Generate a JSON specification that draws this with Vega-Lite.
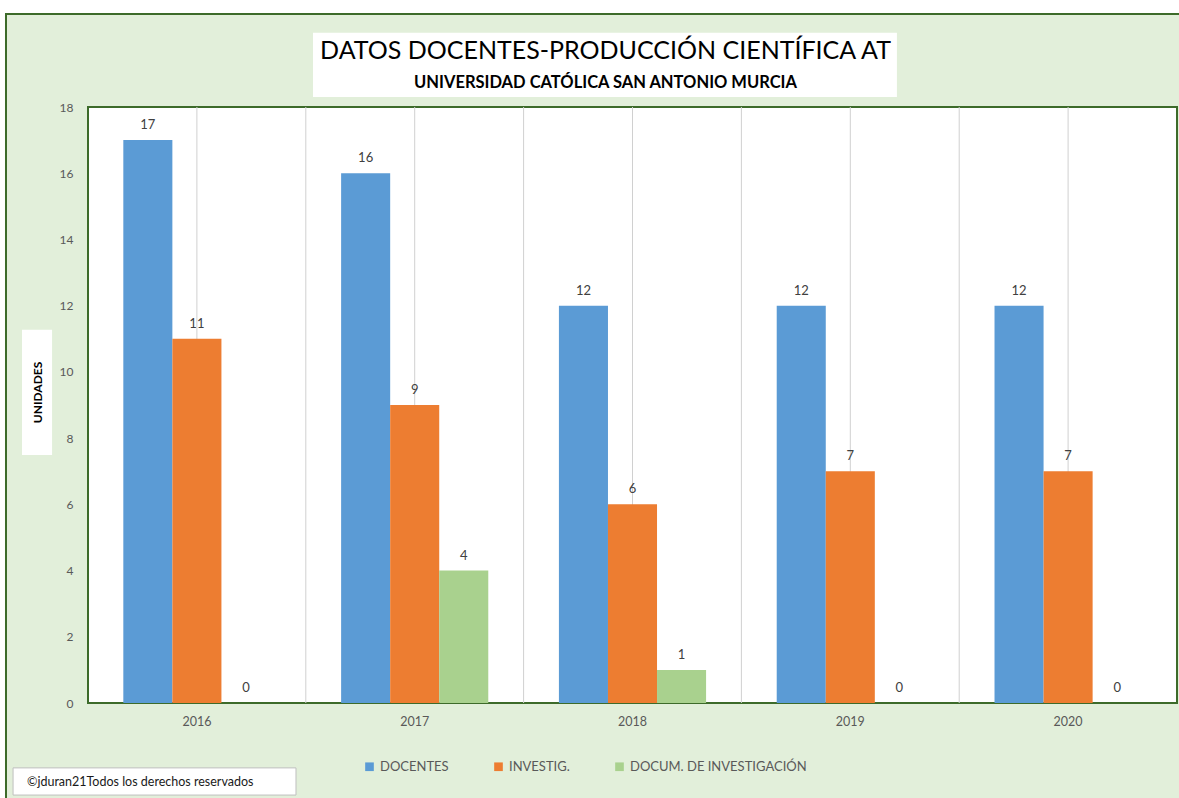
{
  "$schema": "https://vega.github.io/schema/vega-lite/v6.json",
  "width": 1089,
  "height": 596,
  "autosize": {"type": "none"},
  "padding": {"left": 88, "top": 107, "right": 2, "bottom": 95},
  "background": "#FFFFFF",
  "config": {
    "font": "Lato",
    "view": {"fill": null, "stroke": null}
  },
  "title": {
    "text": "DATOS DOCENTES-PRODUCCIÓN CIENTÍFICA AT",
    "subtitle": "UNIVERSIDAD CATÓLICA SAN ANTONIO MURCIA",
    "font": "Lato",
    "fontSize": 25,
    "fontWeight": "normal",
    "color": "#000000",
    "subtitleFont": "Lato",
    "subtitleFontSize": 16.5,
    "subtitleFontWeight": "bold",
    "subtitleColor": "#000000",
    "subtitlePadding": 11,
    "anchor": "middle",
    "frame": "group",
    "dx": -27,
    "offset": -79,
    "zindex": 2
  },
  "data": {
    "values": [
      {"year": "2016", "serie": "DOCENTES", "value": 17},
      {"year": "2016", "serie": "INVESTIG.", "value": 11},
      {"year": "2016", "serie": "DOCUM. DE INVESTIGACIÓN", "value": 0},
      {"year": "2017", "serie": "DOCENTES", "value": 16},
      {"year": "2017", "serie": "INVESTIG.", "value": 9},
      {"year": "2017", "serie": "DOCUM. DE INVESTIGACIÓN", "value": 4},
      {"year": "2018", "serie": "DOCENTES", "value": 12},
      {"year": "2018", "serie": "INVESTIG.", "value": 6},
      {"year": "2018", "serie": "DOCUM. DE INVESTIGACIÓN", "value": 1},
      {"year": "2019", "serie": "DOCENTES", "value": 12},
      {"year": "2019", "serie": "INVESTIG.", "value": 7},
      {"year": "2019", "serie": "DOCUM. DE INVESTIGACIÓN", "value": 0},
      {"year": "2020", "serie": "DOCENTES", "value": 12},
      {"year": "2020", "serie": "INVESTIG.", "value": 7},
      {"year": "2020", "serie": "DOCUM. DE INVESTIGACIÓN", "value": 0}
    ]
  },
  "layer": [
    {
      "data": {"values": [{"box": "frame"}]},
      "mark": {"type": "rect", "fill": "#E2EFDA", "stroke": "#3D6B2A", "strokeWidth": 2, "clip": false},
      "encoding": {
        "x": {"datum": "2016", "bandPosition": -0.3765, "type": "nominal", "axis": null},
        "x2": {"datum": "2020", "bandPosition": 1.1},
        "y": {"datum": 20.81, "type": "quantitative"},
        "y2": {"datum": -3.6}
      }
    },
    {
      "data": {"values": [{"box": "plot"}]},
      "mark": {"type": "rect", "fill": "#FFFFFF", "stroke": "#3D6B2A", "strokeWidth": 2, "clip": false},
      "encoding": {
        "x": {"datum": "2016", "bandPosition": 0, "type": "nominal", "axis": null},
        "x2": {"datum": "2020", "bandPosition": 1},
        "y": {"datum": 18, "type": "quantitative"},
        "y2": {"datum": 0}
      }
    },
    {
      "transform": [{"aggregate": [{"op": "count", "as": "n"}], "groupby": ["year"]}],
      "mark": {"type": "rule", "color": "#D0D0D0", "strokeWidth": 1},
      "encoding": {
        "x": {"field": "year", "type": "nominal", "bandPosition": 0.5, "axis": null}
      }
    },
    {
      "transform": [
        {"aggregate": [{"op": "count", "as": "n"}], "groupby": ["year"]},
        {"filter": "datum.year !== '2016'"}
      ],
      "mark": {"type": "rule", "color": "#D0D0D0", "strokeWidth": 1},
      "encoding": {
        "x": {"field": "year", "type": "nominal", "bandPosition": 0, "axis": null}
      }
    },
    {
      "mark": {"type": "bar"},
      "encoding": {
        "x": {
          "field": "year", "type": "nominal",
          "scale": {"domain": ["2016", "2017", "2018", "2019", "2020"], "paddingInner": 0, "paddingOuter": 0},
          "axis": {
            "title": null, "orient": "bottom", "domain": false, "ticks": false, "zindex": 1,
            "labelAngle": 0, "labelColor": "#595959", "labelFontSize": 12.5, "labelPadding": 12,
            "grid": false
          }
        },
        "xOffset": {
          "field": "serie", "type": "nominal",
          "sort": ["DOCENTES", "INVESTIG.", "DOCUM. DE INVESTIGACIÓN"],
          "scale": {"paddingInner": 0, "paddingOuter": 0.72}
        },
        "y": {
          "field": "value", "type": "quantitative",
          "scale": {"domain": [0, 18], "nice": false},
          "axis": {
            "title": "UNIDADES", "titleFontSize": 12, "titleFontWeight": "bold", "titleColor": "#000000",
            "titleX": -51, "titleY": 285, "titleAngle": -90, "titleBaseline": "middle", "titleAlign": "center",
            "values": [0, 2, 4, 6, 8, 10, 12, 14, 16, 18],
            "grid": false, "domain": false, "ticks": false, "zindex": 1,
            "labelColor": "#595959", "labelFontSize": 12, "labelPadding": 15
          }
        },
        "color": {
          "field": "serie", "type": "nominal",
          "sort": ["DOCENTES", "INVESTIG.", "DOCUM. DE INVESTIGACIÓN"],
          "scale": {
            "domain": ["DOCENTES", "INVESTIG.", "DOCUM. DE INVESTIGACIÓN"],
            "range": ["#5B9BD5", "#ED7D31", "#A9D18E"]
          },
          "legend": {
            "title": null, "orient": "none", "direction": "horizontal",
            "legendX": 275, "legendY": 653,
            "symbolType": "square", "symbolSize": 75, "symbolStrokeWidth": 0,
            "labelFontSize": 13, "labelColor": "#595959", "labelOffset": 4, "labelLimit": 400,
            "columnPadding": 43
          }
        }
      }
    },
    {
      "mark": {"type": "text", "baseline": "alphabetic", "dy": -11, "fontSize": 13, "color": "#404040"},
      "encoding": {
        "x": {"field": "year", "type": "nominal", "axis": null},
        "xOffset": {"field": "serie", "type": "nominal", "sort": ["DOCENTES", "INVESTIG.", "DOCUM. DE INVESTIGACIÓN"]},
        "y": {"field": "value", "type": "quantitative"},
        "text": {"field": "value", "type": "quantitative"}
      }
    },
    {
      "data": {"values": [{"box": "title"}]},
      "mark": {"type": "rect", "fill": "#FFFFFF", "clip": false},
      "encoding": {
        "x": {"datum": "2017", "bandPosition": 0.033, "type": "nominal", "axis": null},
        "x2": {"datum": "2019", "bandPosition": 0.714},
        "y": {"datum": 20.24, "type": "quantitative"},
        "y2": {"datum": 18.3}
      }
    },
    {
      "data": {"values": [{"box": "ytitle"}]},
      "mark": {"type": "rect", "fill": "#FFFFFF", "clip": false},
      "encoding": {
        "x": {"datum": "2016", "bandPosition": -0.303, "type": "nominal", "axis": null},
        "x2": {"datum": "2016", "bandPosition": -0.165},
        "y": {"datum": 11.27, "type": "quantitative"},
        "y2": {"datum": 7.49}
      }
    },
    {
      "data": {"values": [{"box": "copyright"}]},
      "mark": {"type": "rect", "fill": "#FFFFFF", "stroke": "#BFBFBF", "strokeWidth": 1, "clip": false},
      "encoding": {
        "x": {"datum": "2016", "bandPosition": -0.344, "type": "nominal", "axis": null},
        "x2": {"datum": "2016", "bandPosition": 0.955},
        "y": {"datum": -1.96, "type": "quantitative"},
        "y2": {"datum": -2.78}
      }
    },
    {
      "data": {"values": [{"note": "©jduran21Todos los derechos reservados"}]},
      "mark": {"type": "text", "align": "left", "baseline": "middle", "fontSize": 12.5, "font": "Lato", "color": "#1a1a1a", "clip": false},
      "encoding": {
        "x": {"datum": "2016", "bandPosition": -0.28, "type": "nominal", "axis": null},
        "y": {"datum": -2.4, "type": "quantitative"},
        "text": {"field": "note"}
      }
    }
  ],
  "resolve": {"axis": {"x": "independent"}}
}
